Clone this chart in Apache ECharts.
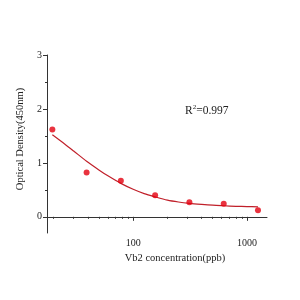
<!DOCTYPE html>
<html><head><meta charset="utf-8">
<script src="https://cdn.jsdelivr.net/npm/echarts@6/dist/echarts.min.js"></script>
<style>html,body{margin:0;padding:0;background:#fff}#c{width:300px;height:300px}</style>
</head><body><div id="c"></div>
<script>
const concentrations = [19.5, 39, 78, 156, 312, 625, 1250];
const odValues = [1.62, 0.82, 0.67, 0.40, 0.27, 0.24, 0.12];
const curveX = [19.5, 25, 30, 39, 50, 60, 78, 100, 125, 156, 200, 250, 312, 400, 500, 625, 800, 1000, 1250];
const curveY = [1.52, 1.35, 1.22, 1.03, 0.87, 0.76, 0.62, 0.51, 0.43, 0.37, 0.31, 0.275, 0.25, 0.23, 0.215, 0.205, 0.195, 0.19, 0.185];
const xMajorTicks = [100, 1000];
const xMinorTicks = [20,30,40,50,60,70,80,90,200,300,400,500,600,700,800,900];
const yMajorTicks = [0, 1, 2, 3];
const yMinorTicks = [0.5, 1.5, 2.5];
const r2Text = '0.997';

const font = 'Liberation Serif';
const txt = '#222';
const chart = echarts.init(document.getElementById('c'));
const xBase = {type:'log', logBase:10, min:17.5, max:1500, position:'bottom', splitLine:{show:false}};
const yBase = {type:'value', min:-0.3, max:3, position:'left', splitLine:{show:false}};
chart.setOption({
  animation:false,
  grid:{left:47, right:33, top:55, bottom:67},
  xAxis:[
    Object.assign({}, xBase, {
      axisLine:{show:true, lineStyle:{color:'#333', width:1}},
      axisTick:{show:true, length:4, customValues:xMajorTicks, lineStyle:{color:'#333'}},
      axisLabel:{show:true, customValues:xMajorTicks, margin:5, fontFamily:font, fontSize:10, color:txt,
        formatter:v=>String(Math.round(v))},
      name:'Vb2 concentration(ppb)', nameLocation:'middle', nameGap:16,
      nameTextStyle:{fontFamily:font, fontSize:10.5, color:txt, padding:[0,0,0,36]}
    }),
    Object.assign({}, xBase, {
      axisLine:{show:false},
      axisTick:{show:true, length:2, customValues:xMinorTicks, lineStyle:{color:'#333'}},
      axisLabel:{show:false}
    })
  ],
  yAxis:[
    Object.assign({}, yBase, {
      axisLine:{show:true, lineStyle:{color:'#333', width:1}},
      axisTick:{show:true, length:4, customValues:yMajorTicks, lineStyle:{color:'#333'}},
      axisLabel:{show:true, customValues:yMajorTicks, margin:5, fontFamily:font, fontSize:10, color:txt,
        formatter:v=>String(Math.round(v))},
      name:'Optical Density(450nm)', nameLocation:'middle', nameGap:21,
      nameTextStyle:{fontFamily:font, fontSize:10.5, color:txt, padding:[0,0,0,10]}
    }),
    Object.assign({}, yBase, {
      axisLine:{show:false},
      axisTick:{show:true, length:2, customValues:yMinorTicks, lineStyle:{color:'#333'}},
      axisLabel:{show:false}
    })
  ],
  series:[
    {type:'line', xAxisIndex:0, yAxisIndex:0, smooth:0.3, showSymbol:false,
     data:curveX.map((x,i)=>[x, curveY[i]]),
     lineStyle:{color:'#c0202a', width:1.2}, z:2},
    {type:'scatter', xAxisIndex:0, yAxisIndex:0, symbolSize:6,
     data:concentrations.map((x,i)=>[x, odValues[i]]),
     itemStyle:{color:'#e3000f'}, z:3}
  ],
  graphic:[{type:'text', left:185, top:104,
    style:{text:'{a|R}{s|2}{a|=' + r2Text + '}', rich:{
      a:{fontFamily:font, fontSize:11.5, fill:txt, verticalAlign:'bottom'},
      s:{fontFamily:font, fontSize:7, fill:txt, verticalAlign:'top', padding:[0,0,6,0]}}}}]
});
</script></body></html>
